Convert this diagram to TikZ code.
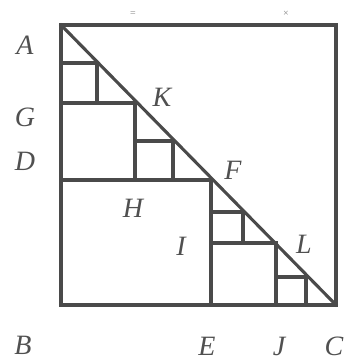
\documentclass[tikz,border=0pt]{standalone}
\usepackage{fontspec}
\setmainfont{Liberation Serif}
\definecolor{linegray}{HTML}{4A4A4A}
\definecolor{labgray}{HTML}{505050}
\definecolor{faint}{HTML}{808080}
\begin{document}
\begin{tikzpicture}[x=1pt,y=-1pt,
  seg/.style={line width=3.1pt, draw=linegray, line cap=rect},
  lab/.style={text=labgray, inner sep=0pt, font=\fontsize{28}{32}\selectfont\itshape},
  tick/.style={text=faint, inner sep=0pt, font=\fontsize{10}{11}\selectfont}]
\useasboundingbox (0,0) rectangle (345,363);
% main points
\coordinate (A) at (61,25);
\coordinate (B) at (61,305);
\coordinate (C) at (336,305);
\coordinate (T) at (336,25);
\coordinate (D) at (61,180);
\coordinate (F) at (211,180);
\coordinate (E) at (211,305);
\coordinate (G) at (61,103);
\coordinate (K) at (135,103);
\coordinate (H) at (135,180);
\coordinate (I) at (211,243);
\coordinate (L) at (276,243);
\coordinate (J) at (276,305);
\coordinate (P1) at (97,63);
\coordinate (P2) at (173,141);
\coordinate (P3) at (243,212);
\coordinate (P4) at (306,277);
% outer square and diagonal
\draw[seg, line join=miter] (A) -- (T) -- (C) -- (B) -- cycle;
\draw[seg] (A) -- (C);
% big squares
\draw[seg] (D) -- (F) -- (E);
\draw[seg] (G) -- (K) -- (H);
\draw[seg] (I) -- (L) -- (J);
% small squares
\draw[seg] (A |- P1) -- (P1) -- (P1 |- G);
\draw[seg] (K |- P2) -- (P2) -- (P2 |- H);
\draw[seg] (I |- P3) -- (P3) -- (P3 |- I);
\draw[seg] (J |- P4) -- (P4) -- (P4 |- J);
% labels
\node[lab] (lA) at (25,45) {A};
\node[lab] (lG) at (25,117) {G};
\node[lab] (lD) at (25,161) {D};
\node[lab] (lK) at (162,97) {K};
\node[lab] (lF) at (233,170) {F};
\node[lab] (lH) at (133,208) {H};
\node[lab] (lI) at (181,246) {I};
\node[lab] (lL) at (304,244) {L};
\node[lab] (lB) at (23,345) {B};
\node[lab] (lE) at (207,346) {E};
\node[lab] (lJ) at (279,346) {J};
\node[lab] (lC) at (334,346) {C};
% faint marks above the top edge
\node[tick] (m1) at (133,14) {=};
\node[tick] (m2) at (286,14) {×};
\end{tikzpicture}
\end{document}
